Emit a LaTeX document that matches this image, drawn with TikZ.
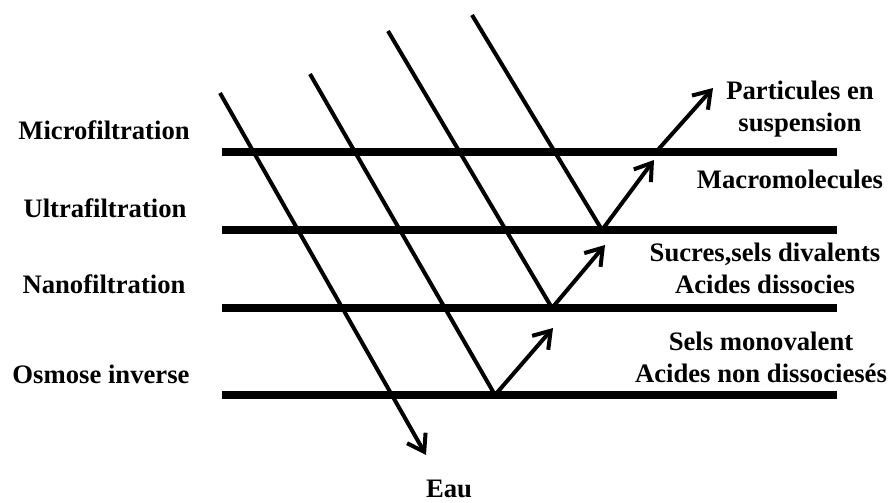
\documentclass[tikz,border=0pt]{standalone}
\usepackage{fontspec}
\setmainfont{Liberation Serif}
\usetikzlibrary{arrows.meta}

\begin{document}
\begin{tikzpicture}[
    x=0.75pt, y=-0.75pt,
    membrane/.style={line width=5.5pt},
    flow/.style={line width=3pt},
    arr/.style={line width=3pt, -{Straight Barb[length=12pt,width=16pt]}},
    lbl/.style={font=\bfseries\fontsize{20}{24}\selectfont, align=center, inner sep=0pt},
]
\useasboundingbox (0,0) rectangle (893,503);

% Membranes
\foreach \name/\y in {mf/152, uf/230, nf/308, oi/395} {
  \coordinate (\name-l) at (222,\y);
  \coordinate (\name-r) at (837,\y);
  \draw[membrane] (\name-l) -- (\name-r);
}

% Process names
\node[lbl] (mfTxt) at (104,130) {Microfiltration};
\node[lbl] (ufTxt) at (105,208) {Ultrafiltration};
\node[lbl] (nfTxt) at (104,284) {Nanofiltration};
\node[lbl] (oiTxt) at (101,374) {Osmose inverse};

% Retained species
\node[lbl] (part) at (800,109) {Particules en\\suspension};
\node[lbl] (macro) at (790,179) {Macromolecules};
\node[lbl] (sucres) at (765,268) {Sucres,sels divalents\\Acides dissocies};
\node[lbl] (sels) at (761,357) {Sels monovalent\\Acides non dissociesés};
\node[lbl] (eau) at (449,489) {Eau};

% Feed lines
\coordinate (in1) at (220,93);
\coordinate (in2) at (310,74);
\coordinate (in3) at (388,31);
\coordinate (in4) at (472,15);
\coordinate (eauTip) at (426,455);

% Rejection points
\coordinate (roi) at (495,395);
\coordinate (rnf) at (552,308);
\coordinate (ruf) at (602,230);
\coordinate (rmf) at (656,152);

% Arrow ends
\coordinate (toi) at (553,328);
\coordinate (tnf) at (605,245);
\coordinate (tuf) at (654,160);
\coordinate (tmf) at (713,88);

\draw[arr] (in1) -- (eauTip);
\draw[flow] (in2) -- (roi);
\draw[flow] (in3) -- (rnf);
\draw[flow] (in4) -- (ruf);

\draw[arr] (roi) -- (toi);
\draw[arr] (rnf) -- (tnf);
\draw[arr] (ruf) -- (tuf);
\draw[arr] (rmf) -- (tmf);
\end{tikzpicture}
\end{document}
